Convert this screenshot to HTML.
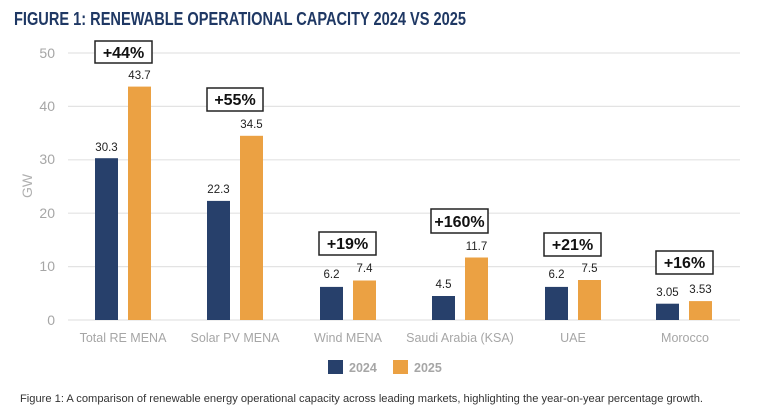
<!DOCTYPE html>
<html><head><meta charset="utf-8"><style>
body{margin:0;background:#fff;width:768px;height:415px;overflow:hidden}
svg{display:block;font-family:"Liberation Sans",sans-serif}
</style></head><body>
<svg width="768" height="415" viewBox="0 0 768 415">
<rect width="768" height="415" fill="#fff"/>
<text x="14" y="25" font-weight="bold" font-size="18" fill="#1f3864" textLength="452" lengthAdjust="spacingAndGlyphs">FIGURE 1: RENEWABLE OPERATIONAL CAPACITY 2024 VS 2025</text>
<g stroke="#e3e3e3" stroke-width="1.2">
<line x1="68" x2="740" y1="53" y2="53"/><line x1="68" x2="740" y1="106.4" y2="106.4"/>
<line x1="68" x2="740" y1="159.8" y2="159.8"/><line x1="68" x2="740" y1="213.2" y2="213.2"/>
<line x1="68" x2="740" y1="266.6" y2="266.6"/><line x1="68" x2="740" y1="320" y2="320"/>
</g>
<g fill="#a6a6a6" font-size="14" text-anchor="end">
<text x="55" y="58">50</text><text x="55" y="111">40</text><text x="55" y="164">30</text>
<text x="55" y="218">20</text><text x="55" y="271">10</text><text x="55" y="325">0</text>
</g>
<text transform="translate(32,186) rotate(-90)" fill="#b0b0b0" font-size="14" text-anchor="middle">GW</text>
<g fill="#27406b">
<rect x="95" y="158.2" width="23" height="161.8"/>
<rect x="207" y="200.9" width="23" height="119.1"/>
<rect x="320" y="286.9" width="23" height="33.1"/>
<rect x="432" y="296" width="23" height="24"/>
<rect x="545" y="286.9" width="23" height="33.1"/>
<rect x="656" y="303.7" width="23" height="16.3"/>
</g>
<g fill="#eba143">
<rect x="128" y="86.6" width="23" height="233.4"/>
<rect x="240" y="135.8" width="23" height="184.2"/>
<rect x="353" y="280.5" width="23" height="39.5"/>
<rect x="465" y="257.5" width="23" height="62.5"/>
<rect x="578" y="280" width="23" height="40"/>
<rect x="689" y="301.1" width="23" height="18.9"/>
</g>
<g font-size="11.5" fill="#222" text-anchor="middle">
<text x="106.5" y="151">30.3</text><text x="139.5" y="79">43.7</text>
<text x="218.5" y="193">22.3</text><text x="251.5" y="128">34.5</text>
<text x="331.5" y="278">6.2</text><text x="364.5" y="272">7.4</text>
<text x="443.5" y="288">4.5</text><text x="476.5" y="250">11.7</text>
<text x="556.5" y="278">6.2</text><text x="589.5" y="272">7.5</text>
<text x="667.5" y="296">3.05</text><text x="700.5" y="293">3.53</text>
</g>
<g fill="#fff" stroke="#222" stroke-width="1.5">
<rect x="95" y="41" width="57" height="22"/>
<rect x="207" y="88" width="56" height="23"/>
<rect x="319" y="232" width="57" height="23"/>
<rect x="431" y="209" width="57" height="24"/>
<rect x="544" y="233" width="57" height="23"/>
<rect x="656" y="251" width="57" height="23"/>
</g>
<g font-size="16" font-weight="bold" fill="#111" text-anchor="middle">
<text x="123.5" y="58">+44%</text><text x="235" y="105">+55%</text>
<text x="347.5" y="249">+19%</text><text x="459.5" y="227">+160%</text>
<text x="572.5" y="250">+21%</text><text x="684.5" y="268">+16%</text>
</g>
<g font-size="12.5" fill="#a6a6a6" text-anchor="middle">
<text x="123" y="342">Total RE MENA</text><text x="235" y="342">Solar PV MENA</text>
<text x="348" y="342">Wind MENA</text><text x="460" y="342">Saudi Arabia (KSA)</text>
<text x="573" y="342">UAE</text><text x="685" y="342">Morocco</text>
</g>
<rect x="328" y="360" width="15" height="14" fill="#27406b"/>
<text x="349" y="372" font-size="12.5" font-weight="bold" fill="#a6a6a6">2024</text>
<rect x="393" y="360" width="15" height="14" fill="#eba143"/>
<text x="414" y="372" font-size="12.5" font-weight="bold" fill="#a6a6a6">2025</text>
<text x="20" y="402" font-size="11" fill="#333" textLength="683" lengthAdjust="spacingAndGlyphs">Figure 1: A comparison of renewable energy operational capacity across leading markets, highlighting the year-on-year percentage growth.</text>
</svg>
</body></html>
